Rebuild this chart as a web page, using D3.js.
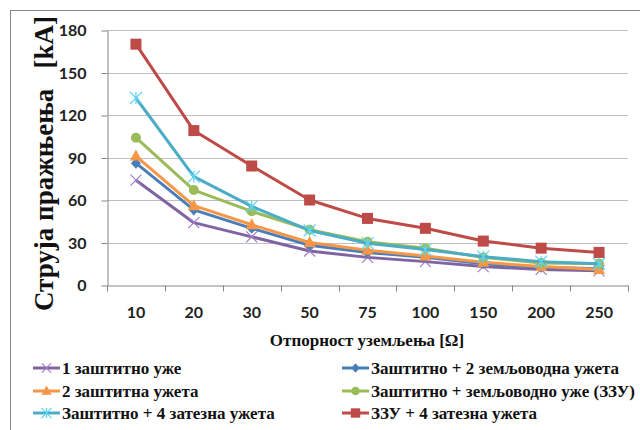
<!DOCTYPE html>
<html>
<head>
<meta charset="utf-8">
<script src="https://cdn.jsdelivr.net/npm/d3@7"></script>
<style>
  body { margin: 0; background: #fff; }
  svg { display: block; }
</style>
</head>
<body>
<div id="chart"></div>
<script>
// Data
const categories = ['10', '20', '30', '50', '75', '100', '150', '200', '250'];
const seriesNames = [
  '1 заштитно уже',
  'Заштитно + 2 земљоводна ужета',
  '2 заштитна ужета',
  'Заштитно + земљоводно уже (ЗЗУ)',
  'Заштитно + 4 затезна ужета',
  'ЗЗУ + 4 затезна ужета'
];
const oneWire      = [74, 44, 34, 24, 19.5, 16.5, 13, 11, 10];
const wirePlus2    = [86, 53, 40, 28, 23, 19.5, 15, 12.5, 11.5];
const twoWires     = [91, 56, 42.5, 30, 24.5, 20.5, 16, 13, 11];
const wireZZU      = [104, 67, 52, 39, 30.5, 26, 19.5, 15.5, 15];
const wirePlus4    = [132, 76.5, 55.5, 38.5, 29.5, 25, 20, 16.5, 15];
const zzuPlus4     = [170, 109, 84, 60, 47, 40, 31, 26, 23];
const yTicks = [0, 30, 60, 90, 120, 150, 180];

const seriesValues = [oneWire, wirePlus2, twoWires, wireZZU, wirePlus4, zzuPlus4];
const colors = ['#8064A2', '#4A7EBB', '#F79646', '#9BBB59', '#4BACC6', '#BE4B48'];
const markers = ['x', 'diamond', 'triangle', 'circle', 'star', 'square'];

const SERIF = '"Liberation Serif"';
const SANS = 'Lato';

const W = 640, H = 430;
const plot = { left: 107, right: 628, top: 30, bottom: 285 };

const svg = d3.select('#chart').append('svg')
  .attr('width', W)
  .attr('height', H);

// Outer border
svg.append('rect')
  .attr('x', 10.5).attr('y', 10.5)
  .attr('width', 640).attr('height', 440)
  .attr('fill', 'none')
  .attr('stroke', '#868686')
  .attr('stroke-width', 1);

const x = d3.scaleBand()
  .domain(categories)
  .range([plot.left, plot.right]);

const y = d3.scaleLinear()
  .domain([0, 180])
  .range([plot.bottom, plot.top]);

// Gridlines
svg.append('g')
  .selectAll('line')
  .data(yTicks.filter(t => t > 0))
  .join('line')
  .attr('x1', plot.left).attr('x2', plot.right)
  .attr('y1', d => Math.round(y(d)) + 0.5)
  .attr('y2', d => Math.round(y(d)) + 0.5)
  .attr('stroke', '#BFBFBF')
  .attr('stroke-width', 1);

// Y axis
const yAxis = svg.append('g')
  .attr('transform', `translate(${plot.left + 0.5},0.5)`)
  .call(d3.axisLeft(y).tickValues(yTicks).tickSize(6).tickPadding(15).tickSizeOuter(0));
yAxis.select('.domain').attr('stroke', '#868686');
yAxis.selectAll('.tick line').attr('stroke', '#868686');
yAxis.selectAll('.tick text')
  .attr('fill', '#222')
  .style('font-family', SANS)
  .style('font-weight', 'bold')
  .style('font-size', '16px');

// X axis
const xAxis = svg.append('g')
  .attr('transform', `translate(0,${plot.bottom + 0.5})`)
  .call(d3.axisBottom(x).tickSize(0).tickPadding(21));
xAxis.select('.domain').attr('stroke', '#868686');
xAxis.selectAll('.tick text')
  .attr('fill', '#222')
  .style('font-family', SANS)
  .style('font-weight', 'bold')
  .style('font-size', '16px');
// category boundary ticks
xAxis.selectAll('.cat-tick')
  .data(categories.map((c, i) => i).concat([categories.length]))
  .join('line')
  .attr('class', 'cat-tick')
  .attr('x1', i => Math.round(plot.left + i * x.step()) + 0.5)
  .attr('x2', i => Math.round(plot.left + i * x.step()) + 0.5)
  .attr('y1', 0).attr('y2', 6)
  .attr('stroke', '#868686');

// Axis titles
svg.append('text')
  .attr('transform', `translate(53,${(40 + 287) / 2}) rotate(-90)`)
  .attr('text-anchor', 'middle')
  .style('font-family', SERIF)
  .style('font-weight', 'bold')
  .style('font-size', '27px')
  .style('white-space', 'pre')
  .attr('fill', '#111')
  .text('Струја пражњења   [kA]');

svg.append('text')
  .attr('x', 367)
  .attr('y', 346)
  .attr('text-anchor', 'middle')
  .style('font-family', SERIF)
  .style('font-weight', 'bold')
  .style('font-size', '17px')
  .attr('fill', '#111')
  .text('Отпорност уземљења [Ω]');

// Marker drawing
function drawMarker(g, type, color, cx, cy, scale) {
  const s = scale || 1;
  if (type === 'square') {
    g.append('rect')
      .attr('x', cx - 5.5 * s).attr('y', cy - 5.5 * s)
      .attr('width', 11 * s).attr('height', 11 * s)
      .attr('fill', color);
  } else if (type === 'circle') {
    g.append('circle')
      .attr('cx', cx).attr('cy', cy).attr('r', 5 * s)
      .attr('fill', color);
  } else if (type === 'triangle') {
    g.append('path')
      .attr('d', `M${cx},${cy - 6.5 * s}L${cx + 6 * s},${cy + 4.5 * s}L${cx - 6 * s},${cy + 4.5 * s}Z`)
      .attr('fill', color);
  } else if (type === 'diamond') {
    g.append('path')
      .attr('d', `M${cx},${cy - 5.5 * s}L${cx + 5 * s},${cy}L${cx},${cy + 5.5 * s}L${cx - 5 * s},${cy}Z`)
      .attr('fill', color);
  } else if (type === 'x') {
    const r = 5.5 * s;
    g.append('path')
      .attr('d', `M${cx - r},${cy - r}L${cx + r},${cy + r}M${cx - r},${cy + r}L${cx + r},${cy - r}`)
      .attr('stroke', d3.color(color).brighter(0.6))
      .attr('stroke-width', 1.2)
      .attr('fill', 'none');
  } else if (type === 'star') {
    const r = 6 * s;
    g.append('path')
      .attr('d', `M${cx - r},${cy - r}L${cx + r},${cy + r}M${cx - r},${cy + r}L${cx + r},${cy - r}M${cx},${cy - r}L${cx},${cy + r}`)
      .attr('stroke', d3.color(color).brighter(0.6))
      .attr('stroke-width', 1.2)
      .attr('fill', 'none');
  }
}

// Series lines and markers
const line = d3.line()
  .x((d, i) => x(categories[i]) + x.bandwidth() / 2)
  .y(d => y(d));

seriesValues.forEach((vals, si) => {
  const g = svg.append('g');
  g.append('path')
    .datum(vals)
    .attr('d', line)
    .attr('fill', 'none')
    .attr('stroke', colors[si])
    .attr('stroke-width', 3)
    .attr('stroke-linejoin', 'round');
  vals.forEach((v, i) => {
    drawMarker(g, markers[si], colors[si], x(categories[i]) + x.bandwidth() / 2, y(v));
  });
});

// Legend
const legendPos = [
  { x: 33, y: 368 }, { x: 342, y: 368 },
  { x: 33, y: 391 }, { x: 342, y: 391 },
  { x: 33, y: 413 }, { x: 342, y: 413 }
];
seriesNames.forEach((name, si) => {
  const p = legendPos[si];
  const g = svg.append('g');
  g.append('line')
    .attr('x1', p.x).attr('x2', p.x + 27)
    .attr('y1', p.y).attr('y2', p.y)
    .attr('stroke', colors[si])
    .attr('stroke-width', 3);
  drawMarker(g, markers[si], colors[si], p.x + 13.5, p.y, 0.85);
  g.append('text')
    .attr('x', p.x + 29)
    .attr('y', p.y + 6)
    .style('font-family', SERIF)
    .style('font-weight', 'bold')
    .style('font-size', '17px')
    .attr('fill', '#111')
    .text(name);
});
</script>
</body>
</html>
